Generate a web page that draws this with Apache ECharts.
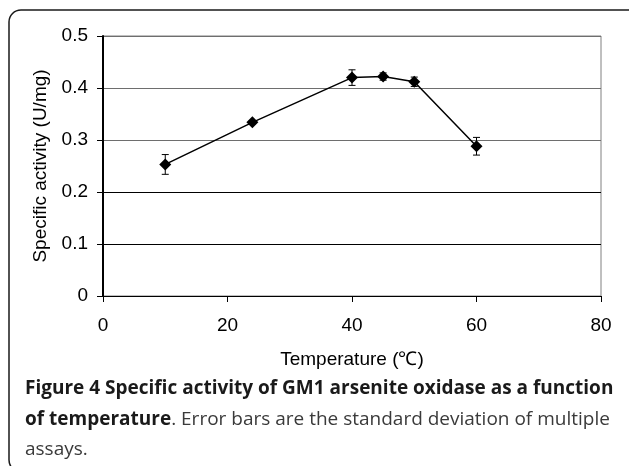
<!DOCTYPE html>
<html>
<head>
<meta charset="utf-8">
<script src="https://cdn.jsdelivr.net/npm/echarts@6/dist/echarts.min.js"></script>
<style>html,body{margin:0;padding:0;background:#fff}#c{width:629px;height:466px}</style>
</head>
<body>
<div id="c"></div>
<script>
const temperatures = [10, 24, 40, 45, 50, 60];
const activity = [0.253, 0.334, 0.420, 0.422, 0.412, 0.288];
const stdDev = [0.019, 0.003, 0.015, 0.007, 0.009, 0.017];
const xTicks = { min: 0, max: 80, interval: 20 };
const yTicks = { min: 0, max: 0.5, interval: 0.1 };
const xTitle = 'Temperature (\u2103)';
const yTitle = 'Specific activity (U/mg)';
const captionBold1 = 'Figure 4 Specific activity of GM1 arsenite oxidase as a function';
const captionBold2 = 'of temperature';
const captionRest2 = '. Error bars are the standard deviation of multiple';
const captionLine3 = 'assays.';

const chart = echarts.init(document.getElementById('c'), null, { renderer: 'canvas' });
const axisFont = { fontFamily: 'Liberation Sans', fontSize: 19, color: '#000' };
const capFont = 'Open Sans';

chart.setOption({
  animation: false,
  backgroundColor: '#fff',
  grid: { left: 103, right: 28, top: 36, bottom: 170, show: true, borderColor: '#808080', borderWidth: 1 },
  xAxis: {
    type: 'value', min: xTicks.min, max: xTicks.max, interval: xTicks.interval,
    name: xTitle, nameLocation: 'middle', nameGap: 54,
    nameTextStyle: axisFont,
    axisLine: { show: true, lineStyle: { color: '#000', width: 1 } },
    axisTick: { show: true, length: 6, lineStyle: { color: '#000' } },
    axisLabel: Object.assign({ margin: 20 }, axisFont),
    splitLine: { show: false }
  },
  yAxis: {
    type: 'value', min: yTicks.min, max: yTicks.max, interval: yTicks.interval,
    name: yTitle, nameLocation: 'middle', nameGap: 52,
    nameTextStyle: axisFont,
    axisLine: { show: true, lineStyle: { color: '#000', width: 2 } },
    axisTick: { show: true, length: 6, lineStyle: { color: '#000' } },
    axisLabel: Object.assign({ margin: 15 }, axisFont),
    splitLine: { show: true, lineStyle: { color: ['#000', '#000', '#000', '#6e6e6e', '#6e6e6e', '#6e6e6e'], width: 1 } }
  },
  series: [
    {
      type: 'line',
      data: temperatures.map((t, i) => [t, activity[i]]),
      symbol: 'diamond', symbolSize: 12,
      lineStyle: { color: '#000', width: 1.5 },
      itemStyle: { color: '#000' },
      z: 3
    },
    {
      type: 'custom',
      data: temperatures.map((t, i) => [t, activity[i] - stdDev[i], activity[i] + stdDev[i]]),
      renderItem: function (params, api) {
        const lo = api.coord([api.value(0), api.value(1)]);
        const hi = api.coord([api.value(0), api.value(2)]);
        const w = 3.5;
        const st = { stroke: '#000', lineWidth: 1 };
        return {
          type: 'group',
          children: [
            { type: 'line', shape: { x1: lo[0], y1: lo[1], x2: hi[0], y2: hi[1] }, style: st },
            { type: 'line', shape: { x1: lo[0] - w, y1: lo[1], x2: lo[0] + w, y2: lo[1] }, style: st },
            { type: 'line', shape: { x1: hi[0] - w, y1: hi[1], x2: hi[0] + w, y2: hi[1] }, style: st }
          ]
        };
      },
      z: 4
    }
  ],
  graphic: [
    { type: 'rect', shape: { x: 9, y: 10, width: 660, height: 462, r: 12 }, style: { fill: 'none', stroke: '#1a1a1a', lineWidth: 1.5 }, silent: true },
    { type: 'text', x: 25, y: 389, style: { text: captionBold1, font: 'bold 19px "' + capFont + '"', fill: '#1a1a1a', verticalAlign: 'middle' } },
    { type: 'text', x: 25, y: 420, style: {
        text: '{b|' + captionBold2 + '}{n|' + captionRest2 + '}', verticalAlign: 'middle',
        rich: {
          b: { fontFamily: capFont, fontWeight: 'bold', fontSize: 19, fill: '#1a1a1a' },
          n: { fontFamily: capFont, fontWeight: 'normal', fontSize: 19, fill: '#3a3a3a' }
        } } },
    { type: 'text', x: 25, y: 450, style: { text: captionLine3, font: '19px "' + capFont + '"', fill: '#3a3a3a', verticalAlign: 'middle' } }
  ]
});
</script>
</body>
</html>
